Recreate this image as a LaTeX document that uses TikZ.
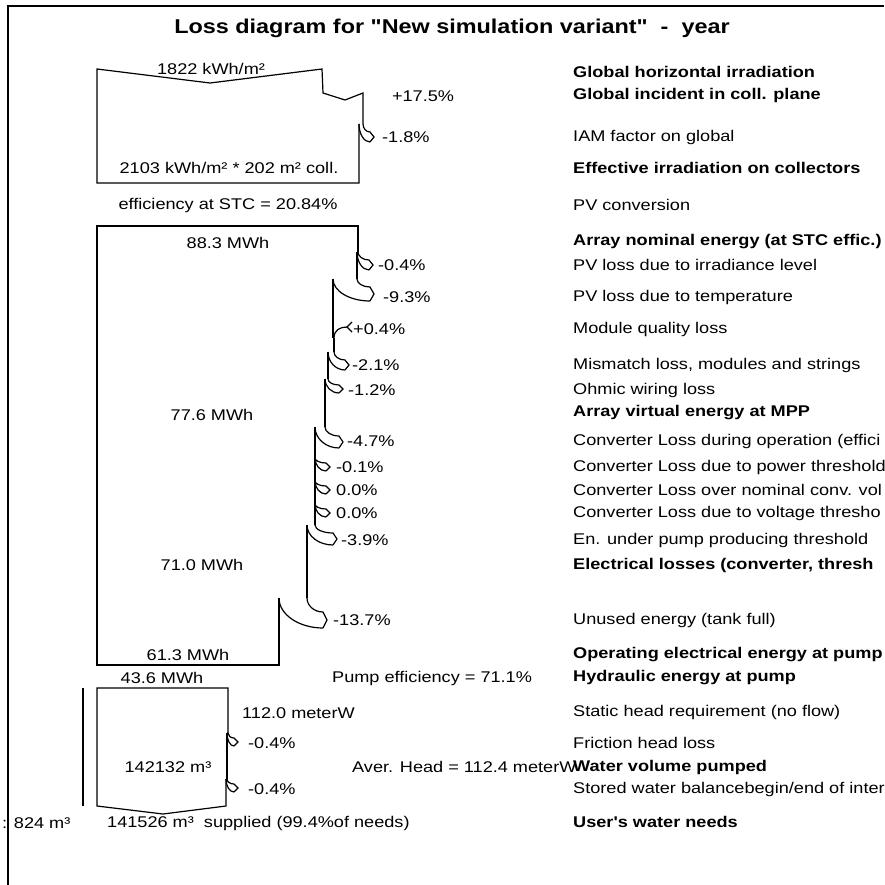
\documentclass[tikz,border=0pt]{standalone}
\usepackage{fontspec}
\setmainfont{Liberation Sans}[FakeStretch=1.17, Ligatures=TeXOff]
\usetikzlibrary{positioning}

\begin{document}
\begin{tikzpicture}[
    x=1pt, y=-1pt,
    flow/.style={line width=1.2pt, line join=miter},
    frame/.style={line width=2.2pt},
    val/.style={font=\fontsize{15.5}{18}\selectfont, inner sep=0pt},
    txt/.style={val, anchor=west},
    head/.style={txt, font=\fontsize{15.5}{18}\selectfont\bfseries}
]
\useasboundingbox (0,0) rectangle (884,885);
\fill[white] (0,0) rectangle (884,885);
\clip (0,0) rectangle (884,885);

% ── Frame ──
\draw[frame] (884,6) -- (8,6) -- (8,885);

\node[font=\fontsize{20}{22}\selectfont\bfseries, inner sep=0pt] (title) at (452,28)
    {Loss diagram for "New simulation variant"\ \ -\ \ year};

% ── Irradiation box ──
\draw[flow] (363,124) -- (363,93) -- (345,100) -- (323,93) -- (322,69) -- (210,83) -- (97,69)
    -- (97,183) -- (359,183) -- (359,124);

% ── Array energy box ──
\draw[flow] (279,598) -- (279,665) -- (97,665) -- (97,226) -- (358,226) -- (358,252);
\draw[flow] (357,252) -- (357,279);
\draw[flow] (333,279) -- (333,338);
\draw[flow] (334,338) -- (334,352);
\draw[flow] (328,352) -- (328,379);
\draw[flow] (325,379) -- (325,427);
\draw[flow] (315,427) -- (315,525);
\draw[flow] (307,525) -- (307,598);

% ── Hydraulic box ──
\draw[flow] (227,733) -- (228,733) -- (228,688) -- (97,688) -- (97,806) -- (163,814) -- (226,806) -- (226,779);
\draw[flow] (227,733) -- (227,779);
\draw[line width=2pt] (83,688) -- (83,806);

% ── Loss bands ──
\foreach \xo/\xi/\y/\xt/\yt/\hh in {
    363/359/124/374/137/5, 358/357/252/373/265/5, 357/333/279/374/294/7,
    334/328/352/349/365/5, 328/325/379/343/389/4, 325/315/427/343/442/6,
    315/315/458/330/467/4, 315/315/481/330/490/4, 315/315/504/330/513/4,
    315/307/525/337/539/6, 307/279/598/327/620/8,
    228/227/733/238/742/4, 227/226/779/238/788/4}
  \draw[flow] (\xo,\y) .. controls (\xo,{\y+0.55*(\yt-\hh-\y)}) and ({\xt-4-0.55*(\xt-4-\xo)},\yt-\hh)
      .. (\xt-4,\yt-\hh) -- (\xt,\yt) -- (\xt-4,\yt+\hh)
      (\xi,\y) .. controls (\xi,{\y+0.55*(\yt+\hh-\y)}) and ({\xt-4-0.55*(\xt-4-\xi)},\yt+\hh)
      .. (\xt-4,\yt+\hh);

% gain +0.4%
\draw[flow] (334,338) .. controls (334,330) and (340,327) .. (347,327);
\draw[flow] (352,322) -- (347,327) -- (352,332);

% ── Values in the diagram ──
\node[val] (ghi) at (211,69) {1822 kWh/m²};
\node[val] (gain) at (423,96) {+17.5\%};
\node[txt] (iam) at (382,137) {-1.8\%};
\node[val] (eff) at (229,168) {2103 kWh/m² * 202 m² coll.};
\node[val] (stc) at (228,205) {efficiency at STC = 20.84\%};
\node[val] (enom) at (228,243) {88.3 MWh};
\node[txt] (lirr) at (378,265) {-0.4\%};
\node[txt] (ltemp) at (383,297) {-9.3\%};
\node[txt] (lqual) at (353,329) {+0.4\%};
\node[txt] (lmis) at (352,365) {-2.1\%};
\node[txt] (lohm) at (348,390) {-1.2\%};
\node[val] (empp) at (212,415) {77.6 MWh};
\node[txt] (lconv) at (347,441) {-4.7\%};
\node[txt] (lpow) at (336,467) {-0.1\%};
\node[txt] (lnom) at (336,490) {0.0\%};
\node[txt] (lvolt) at (336,513) {0.0\%};
\node[txt] (lpump) at (341,540) {-3.9\%};
\node[val] (eel) at (202,565) {71.0 MWh};
\node[txt] (lfull) at (333,620) {-13.7\%};
\node[val] (eop) at (188,655) {61.3 MWh};
\node[val] (ehyd) at (162,678) {43.6 MWh};
\node[txt] (peff) at (332,678) {Pump efficiency = 71.1\%};
\node[txt] (shead) at (242,713) {112.0 meterW};
\node[txt] (lfric) at (248,743) {-0.4\%};
\node[val] (vpump) at (168,767) {142132 m³};
\node[txt] (ahead) at (352,767) {Aver. Head = 112.4 meterW};
\node[txt] (lstore) at (248,789) {-0.4\%};
\node[txt] (miss) at (2,823) {: 824 m³};
\node[txt] (supp) at (107,823) {141526 m³\ \ supplied (99.4\%of needs)};

% ── Labels (right) ──
\node[head] at (573,72) {Global horizontal irradiation};
\node[head] at (573,95) {Global incident in coll. plane};
\node[txt] at (573,137) {IAM factor on global};
\node[head] at (573,168) {Effective irradiation on collectors};
\node[txt] at (573,205) {PV conversion};
\node[head] at (573,242) {Array nominal energy (at STC effic.)};
\node[txt] at (573,265) {PV loss due to irradiance level};
\node[txt] at (573,297) {PV loss due to temperature};
\node[txt] at (573,329) {Module quality loss};
\node[txt] at (573,365) {Mismatch loss, modules and strings};
\node[txt] at (573,390) {Ohmic wiring loss};
\node[head] at (573,413) {Array virtual energy at MPP};
\node[txt] at (573,441) {Converter Loss during operation (effici};
\node[txt] at (573,467) {Converter Loss due to power threshold};
\node[txt] at (573,490) {Converter Loss over nominal conv. vol};
\node[txt] at (573,513) {Converter Loss due to voltage thresho};
\node[txt] at (573,540) {En. under pump producing threshold};
\node[head] at (573,565) {Electrical losses (converter, thresh};
\node[txt] at (573,620) {Unused energy (tank full)};
\node[head] at (573,655) {Operating electrical energy at pump};
\node[head] at (573,678) {Hydraulic energy at pump};
\node[txt] at (573,712) {Static head requirement (no flow)};
\node[txt] at (573,743) {Friction head loss};
\node[head] at (573,767) {Water volume pumped};
\node[txt] at (573,789) {Stored water balancebegin/end of inter};
\node[head] at (573,822) {User's water needs};

\end{tikzpicture}
\end{document}
